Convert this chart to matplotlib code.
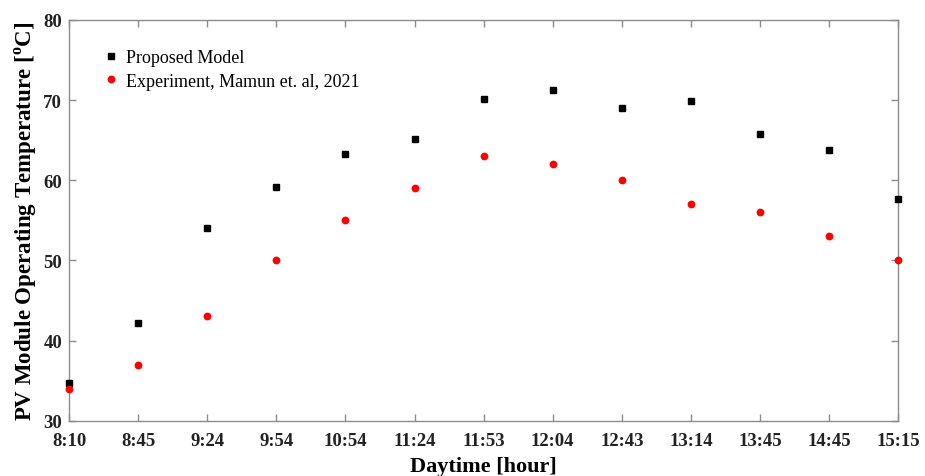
import matplotlib
matplotlib.use("Agg")
import matplotlib.pyplot as plt

# Data
times = ["8:10", "8:45", "9:24", "9:54", "10:54", "11:24", "11:53",
         "12:04", "12:43", "13:14", "13:45", "14:45", "15:15"]
model = [34.7, 42.2, 54.0, 59.2, 63.3, 65.1, 70.2, 71.3, 69.0, 69.9, 65.8, 63.8, 57.7]
experiment = [34.0, 37.0, 43.0, 50.0, 55.0, 59.0, 63.0, 62.0, 60.0, 57.0, 56.0, 53.0, 50.0]

SERIF = "Liberation Serif"
GREY = "#8c8c8c"
plt.rcParams.update({
    "font.family": SERIF,
    "mathtext.fontset": "custom",
    "mathtext.rm": f"{SERIF}:bold",
    "mathtext.bf": f"{SERIF}:bold",
})

fig = plt.figure(figsize=(9.25, 4.77), dpi=100)
ax = fig.add_axes([0.0746, 0.116, 0.8965, 0.840])

x = list(range(len(times)))
ax.plot(x, model, ls="none", marker="s", ms=4.3, color="black",
        label="Proposed Model", clip_on=False, zorder=4)
ax.plot(x, experiment, ls="none", marker="o", ms=4.6, color="#ff0000",
        label="Experiment, Mamun et. al, 2021", clip_on=False, zorder=4)

ax.set_xlim(0, len(times) - 1)
ax.set_ylim(30, 80)
ax.set_xticks(x)
ax.set_xticklabels(times)
ax.set_yticks([30, 40, 50, 60, 70, 80])

for s in ax.spines.values():
    s.set_color(GREY)
    s.set_linewidth(1.0)
ax.tick_params(direction="in", length=5, width=1, color=GREY,
               top=True, right=True, labelsize=13.5)
ax.tick_params(axis="x", pad=8)
ax.tick_params(axis="y", pad=5)
for lbl in ax.get_xticklabels() + ax.get_yticklabels():
    lbl.set_fontweight("bold")
    lbl.set_color("#222222")

ax.set_xlabel("Daytime [hour]", fontsize=16, fontweight="bold", labelpad=5)
ax.set_ylabel(r"PV Module Operating Temperature [$^{\mathrm{o}}$C]",
              fontsize=16.5, fontweight="bold", labelpad=3)

ax.legend(loc="upper left", bbox_to_anchor=(0.02, 0.967), frameon=False,
          fontsize=13, handletextpad=0.35, labelspacing=0.35,
          handlelength=1.0, markerscale=1.0)

fig.savefig("out.png", dpi=100)
